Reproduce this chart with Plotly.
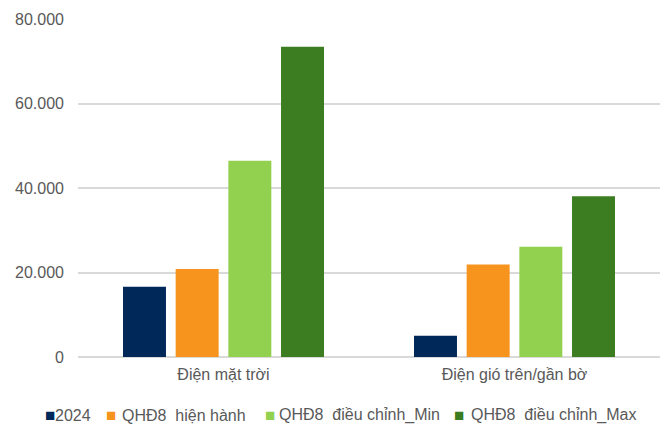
import plotly.graph_objects as go

categories = ["Điện mặt trời", "Điện gió trên/gần bờ"]
series_names = ["2024", "QHĐ8  hiện hành", "QHĐ8  điều chỉnh_Min", "QHĐ8  điều chỉnh_Max"]
values_2024 = [16600, 5000]
values_current = [20800, 21880]
values_min = [46459, 26066]
values_max = [73416, 38029]
colors = ["#002859", "#F7941D", "#92D050", "#3C7D22"]
tick_values = [0, 20000, 40000, 60000, 80000]
tick_labels = ["0", "20.000", "40.000", "60.000", "80.000"]

font = "Liberation Sans, Arial, sans-serif"
text_color = "#595959"

fig = go.Figure()
for name, vals, col in zip(series_names, [values_2024, values_current, values_min, values_max], colors):
    fig.add_trace(go.Bar(x=categories, y=vals, name=name, showlegend=False,
                         marker=dict(color=col, line=dict(width=0))))

# Legend row below the plot: coloured square + label per series
plot_left, plot_width = 78, 582
legend_marker_px = [43, 104, 263, 452]
legend_text_px = [53, 120, 277, 469]
for name, col, mx, tx in zip(series_names, colors, legend_marker_px, legend_text_px):
    fig.add_annotation(xref="paper", yref="paper", x=(mx - plot_left) / plot_width, y=-0.173,
                       xanchor="left", yanchor="middle", showarrow=False,
                       text="■", font=dict(family=font, size=17, color=col))
    fig.add_annotation(xref="paper", yref="paper", x=(tx - plot_left) / plot_width, y=-0.173,
                       xanchor="left", yanchor="middle", showarrow=False,
                       text=name.replace("  ", "&nbsp; "), font=dict(family=font, size=16, color=text_color))

fig.update_layout(
    width=669, height=425,
    margin=dict(l=78, r=9, t=19, b=68),
    paper_bgcolor="white", plot_bgcolor="white",
    barmode="group", bargap=0.276, bargroupgap=0.184,
    font=dict(family=font, size=16, color=text_color),
    showlegend=False,
    xaxis=dict(showline=False, ticks="", ticklabelstandoff=6,
               tickfont=dict(size=16, color=text_color)),
    yaxis=dict(range=[0, 80000], tickvals=tick_values, ticktext=tick_labels,
               showgrid=True, gridcolor="#D9D9D9", gridwidth=1.5,
               zeroline=True, zerolinecolor="#D9D9D9", zerolinewidth=1.5,
               showline=False, ticks="", ticklabelstandoff=13,
               tickfont=dict(size=16, color=text_color)),
)
fig.write_html("out.html")
